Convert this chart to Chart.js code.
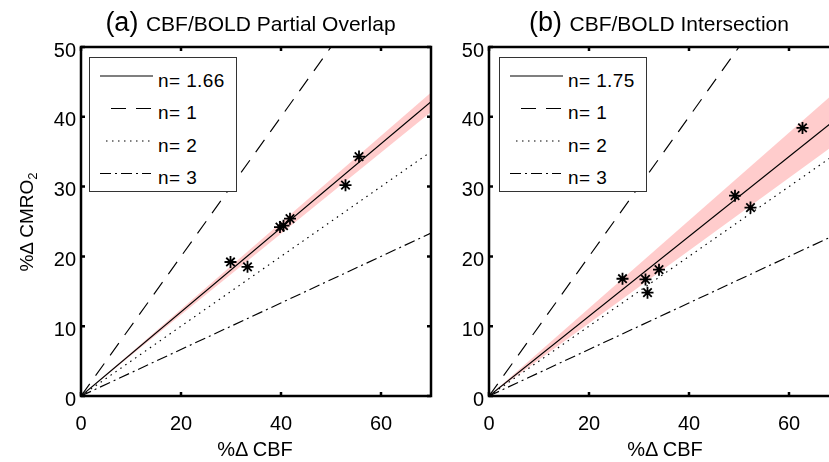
<!DOCTYPE html>
<html>
<head>
<meta charset="utf-8">
<script src="https://cdn.jsdelivr.net/npm/chart.js@4.4.1/dist/chart.umd.min.js"></script>
<style>
  html, body { margin: 0; padding: 0; overflow: hidden; background: #fff; }
  #wrap { position: relative; width: 829px; height: 462px; overflow: hidden; font-family: "Liberation Sans", Arial, sans-serif; color: #000; }
  canvas { position: absolute; top: 0; }
  .title { position: absolute; top: 7px; width: 440px; text-align: center; font-size: 27px; line-height: 30px; white-space: nowrap; }
  .title .sub { font-size: 21px; }
  .xlab { position: absolute; top: 439px; width: 200px; text-align: center; font-size: 20px; line-height: 20px; white-space: nowrap; }
  .ylab { position: absolute; width: 200px; height: 20px; text-align: center; font-size: 19px; line-height: 20px; white-space: nowrap; transform: rotate(-90deg); }
  .ylab sub { font-size: 13px; vertical-align: -4px; line-height: 0; }
  .legend { position: absolute; top: 57px; width: 148px; height: 135px; box-sizing: border-box; border: 1px solid #333; background: #fff; }
  .legend svg { position: absolute; left: 0; top: 0; }
  .legend .lt { position: absolute; left: 68px; font-size: 19px; line-height: 20px; letter-spacing: 0.4px; white-space: nowrap; }
</style>
</head>
<body>
<div id="wrap">
  <canvas id="ca" width="460" height="462" style="left:0px"></canvas>
  <canvas id="cb" width="460" height="462" style="left:410px"></canvas>
</div>
<script>
// ---- data ----
const xTickVals = [0, 20, 40, 60];
const yTickVals = [0, 10, 20, 30, 40, 50];
const xRange = [0, 70];
const yRange = [0, 50];
const panelLetters = ['(a)', '(b)'];
const panelTitles = ['CBF/BOLD Partial Overlap', 'CBF/BOLD Intersection'];
const fitN = [1.66, 1.75];          // fitted n per panel
const bandLowN = [1.61, 1.59];      // upper edge of pink band (smaller n)
const bandHighN = [1.72, 1.92];     // lower edge of pink band (larger n)
const refN = [1, 2, 3];             // reference lines
const cbfA = [29.9, 33.3, 39.8, 40.5, 41.8, 52.9, 55.6];
const cmroA = [19.2, 18.5, 24.2, 24.4, 25.4, 30.2, 34.3];
const cbfB = [26.7, 31.3, 31.7, 34.0, 49.2, 52.3, 62.7];
const cmroB = [16.8, 16.7, 14.8, 18.1, 28.7, 27.0, 38.4];
const xLabel = '%\u0394 CBF';

// ---- styles ----
const dashStyles = { fit: [], 1: [15, 10], 2: [1.5, 4.5], 3: [11, 4, 2, 4] };
const bandColor = 'rgb(255,204,204)';

function lineFor(n) {
  return xRange.map(v => ({ x: v, y: v / n }));
}

const framePlugin = {
  id: 'frame',
  afterDatasetsDraw(chart) {
    const { ctx, chartArea: a, scales: { x, y } } = chart;
    ctx.save();
    ctx.strokeStyle = '#000';
    ctx.lineWidth = 2.5;
    ctx.setLineDash([]);
    ctx.strokeRect(a.left, a.top, a.right - a.left, a.bottom - a.top);
    const L = 4;
    ctx.beginPath();
    xTickVals.forEach(v => {
      const p = x.getPixelForValue(v);
      ctx.moveTo(p, a.bottom); ctx.lineTo(p, a.bottom - L);
      ctx.moveTo(p, a.top); ctx.lineTo(p, a.top + L);
    });
    yTickVals.forEach(v => {
      const p = y.getPixelForValue(v);
      ctx.moveTo(a.left, p); ctx.lineTo(a.left + L, p);
      ctx.moveTo(a.right, p); ctx.lineTo(a.right - L, p);
    });
    ctx.stroke();
    ctx.restore();
  }
};

function makeChart(id, idx, cbf, cmro, yAxisW, padRight) {
  const pts = cbf.map((v, i) => ({ x: v, y: cmro[i] }));
  const lineDs = (data, dash, order) => ({
    data, showLine: true, borderColor: '#000', borderWidth: 1.15,
    borderDash: dash, pointRadius: 0, pointHoverRadius: 0, fill: false, order
  });
  const datasets = [
    { data: pts, pointStyle: 'star', pointRadius: 6, pointBorderWidth: 1.8,
      borderColor: '#000', backgroundColor: '#000', showLine: false, order: 0 },
    lineDs(lineFor(fitN[idx]), dashStyles.fit, 1),
    lineDs(lineFor(refN[0]), dashStyles[1], 2),
    lineDs(lineFor(refN[1]), dashStyles[2], 3),
    lineDs(lineFor(refN[2]), dashStyles[3], 4),
    { data: lineFor(bandLowN[idx]), showLine: true, borderWidth: 0, borderColor: 'rgba(0,0,0,0)',
      pointRadius: 0, fill: '+1', backgroundColor: bandColor, order: 10 },
    { data: lineFor(bandHighN[idx]), showLine: true, borderWidth: 0, borderColor: 'rgba(0,0,0,0)',
      pointRadius: 0, fill: false, order: 11 }
  ];
  return new Chart(document.getElementById(id), {
    type: 'scatter',
    data: { datasets },
    plugins: [framePlugin],
    options: {
      responsive: false,
      animation: false,
      devicePixelRatio: 1,
      layout: { padding: { top: 47, right: padRight, left: 0, bottom: 0 } },
      plugins: { legend: { display: false }, tooltip: { enabled: false }, title: { display: false } },
      scales: {
        x: {
          type: 'linear', min: xRange[0], max: xRange[1],
          grid: { display: false, drawTicks: false },
          border: { display: false },
          afterBuildTicks: s => { s.ticks = xTickVals.map(v => ({ value: v })); },
          afterFit: s => { s.height = 66; },
          ticks: { color: '#000', padding: 16, maxRotation: 0,
            font: { family: '"Liberation Sans", Arial, sans-serif', size: 20 } }
        },
        y: {
          type: 'linear', min: yRange[0], max: yRange[1],
          grid: { display: false, drawTicks: false },
          border: { display: false },
          afterBuildTicks: s => { s.ticks = yTickVals.map(v => ({ value: v })); },
          afterFit: s => { s.width = yAxisW; },
          ticks: { color: '#000', padding: 5, labelOffset: 4,
            font: { family: '"Liberation Sans", Arial, sans-serif', size: 20 } }
        }
      }
    }
  });
}

makeChart('ca', 0, cbfA, cmroA, 81, 29);
makeChart('cb', 1, cbfB, cmroB, 79, 31);

// ---- HTML text: titles, axis labels, legends ----
const wrap = document.getElementById('wrap');
const titleCenters = [250.5, 659];
const xLabelCenters = [255, 665];
const legendLefts = [89, 499];
titleCenters.forEach((c, i) => {
  const d = document.createElement('div');
  d.className = 'title';
  d.style.left = (c - 220) + 'px';
  d.innerHTML = panelLetters[i] + ' <span class="sub">' + panelTitles[i] + '</span>';
  wrap.appendChild(d);
});
xLabelCenters.forEach(c => {
  const d = document.createElement('div');
  d.className = 'xlab';
  d.style.left = (c - 100) + 'px';
  d.textContent = xLabel;
  wrap.appendChild(d);
});
const yl = document.createElement('div');
yl.className = 'ylab';
yl.style.left = (26.5 - 100) + 'px';
yl.style.top = (222 - 10) + 'px';
yl.innerHTML = '%\u0394 CMRO<sub>2</sub>';
wrap.appendChild(yl);

const legendRowLine = [18, 50.5, 83, 115.5];
const sampleStart = [10, 21, 16, 10];
const sampleEnd = [63, 63, 61, 61];
legendLefts.forEach((lx, i) => {
  const box = document.createElement('div');
  box.className = 'legend';
  box.style.left = lx + 'px';
  const labels = [fitN[i], ...refN].map(n => 'n= ' + n);
  const dashes = [dashStyles.fit, dashStyles[1], dashStyles[2], dashStyles[3]];
  let svg = '<svg width="146" height="133" xmlns="http://www.w3.org/2000/svg">';
  labels.forEach((t, r) => {
    const yy = legendRowLine[r];
    svg += '<line x1="' + sampleStart[r] + '" y1="' + yy + '" x2="' + sampleEnd[r] + '" y2="' + yy +
      '" stroke="#000" stroke-width="1.15"' + (dashes[r].length ? ' stroke-dasharray="' + dashes[r].join(',') + '"' : '') + '/>';
  });
  svg += '</svg>';
  box.innerHTML = svg;
  labels.forEach((t, r) => {
    const s = document.createElement('div');
    s.className = 'lt';
    s.style.top = (legendRowLine[r] + 12.5 - 16.6 - 1) + 'px';
    s.textContent = t;
    box.appendChild(s);
  });
  wrap.appendChild(box);
});
</script>
</body>
</html>
